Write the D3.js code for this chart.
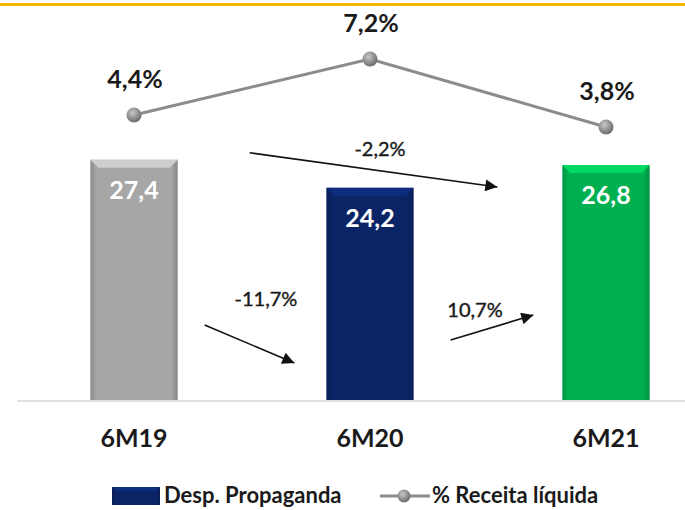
<!DOCTYPE html>
<html>
<head>
<meta charset="utf-8">
<style>
  body { margin: 0; background: #fff; }
  svg { display: block; font-family: Lato, "Open Sans", sans-serif; }
</style>
</head>
<body>
<svg width="685" height="510"></svg>
<script src="https://d3js.org/d3.v7.min.js"></script>
<script>

// data
var periods = ["6M19", "6M20", "6M21"];
var despesa = [27.4, 24.2, 26.8];
var receitaPct = [4.4, 7.2, 3.8];
var barColors = ["#a6a6a6", "#0b2466", "#00b050"];
var variations = [
  { label: "-2,2%", from: "6M19", to: "6M21" },
  { label: "-11,7%", from: "6M19", to: "6M20" },
  { label: "10,7%", from: "6M20", to: "6M21" }
];

var fmt = function(v) { return v.toFixed(1).replace(".", ","); };

var svg = d3.select("svg"),
    width = +svg.attr("width"),
    height = +svg.attr("height");

var x = d3.scaleBand()
    .domain(periods)
    .range([16, 724])
    .paddingInner(0.63)
    .paddingOuter(0.315);

var y = d3.scaleLinear()
    .domain([0, 30])
    .range([400, 137]);

var yPct = d3.scaleLinear()
    .domain([0, 10])
    .range([203, 3]);

var bw = x.bandwidth();
var cx = function(p) { return x(p) + bw / 2; };

var defs = svg.append("defs");

// bevel gradients for the bars
barColors.concat(["#0b2466"]).forEach(function(c, i) {
  var g = defs.append("linearGradient")
      .attr("id", "bar" + i)
      .attr("x1", 0).attr("x2", 1).attr("y1", 0).attr("y2", 0);
  var base = d3.color(c);
  g.append("stop").attr("offset", "0%").attr("stop-color", base.darker(0.5));
  g.append("stop").attr("offset", "7%").attr("stop-color", base);
  g.append("stop").attr("offset", "93%").attr("stop-color", base);
  g.append("stop").attr("offset", "100%").attr("stop-color", base.darker(0.6));
});

var ball = defs.append("radialGradient")
    .attr("id", "ball")
    .attr("cx", "40%").attr("cy", "35%").attr("r", "65%");
ball.append("stop").attr("offset", "0%").attr("stop-color", "#c8c8c8");
ball.append("stop").attr("offset", "100%").attr("stop-color", "#6a6a6a");

defs.append("marker")
    .attr("id", "arrow")
    .attr("viewBox", "0 0 10 10")
    .attr("refX", 10).attr("refY", 5)
    .attr("markerWidth", 15).attr("markerHeight", 12)
    .attr("markerUnits", "userSpaceOnUse")
    .attr("orient", "auto")
  .append("path")
    .attr("d", "M0,0L10,5L0,10z")
    .attr("fill", "#111");

// top yellow rule
svg.append("rect")
    .attr("x", 0).attr("y", 3)
    .attr("width", width).attr("height", 3)
    .attr("fill", "#f5b800");

// baseline
svg.append("line")
    .attr("x1", 17).attr("x2", width)
    .attr("y1", y(0) + 1).attr("y2", y(0) + 1)
    .attr("stroke", "#d9d9d9")
    .attr("stroke-width", 1.5);

// bars
var bars = svg.append("g").selectAll("g")
  .data(periods)
  .enter().append("g");

bars.append("rect")
    .attr("x", function(d) { return x(d); })
    .attr("y", function(d, i) { return y(despesa[i]); })
    .attr("width", bw)
    .attr("height", function(d, i) { return y(0) - y(despesa[i]); })
    .attr("fill", function(d, i) { return "url(#bar" + i + ")"; });

// top bevel
bars.append("path")
    .attr("d", function(d, i) {
      var x0 = x(d), t = y(despesa[i]);
      return "M" + x0 + "," + t + "L" + (x0 + bw) + "," + t +
        "L" + (x0 + bw - 8) + "," + (t + 8) + "L" + (x0 + 8) + "," + (t + 8) + "Z";
    })
    .attr("fill", function(d, i) { return d3.color(barColors[i]).brighter(0.6); });

bars.append("text")
    .attr("x", function(d) { return cx(d); })
    .attr("y", function(d, i) { return y(despesa[i]) + 39; })
    .attr("text-anchor", "middle")
    .attr("fill", "#fff")
    .attr("font-weight", "bold")
    .attr("font-size", 25)
    .text(function(d, i) { return fmt(despesa[i]); });

// % receita line
var line = d3.line()
    .x(function(d, i) { return cx(periods[i]); })
    .y(function(d) { return yPct(d); });

svg.append("path")
    .datum(receitaPct)
    .attr("d", line)
    .attr("fill", "none")
    .attr("stroke", "#8c8c8c")
    .attr("stroke-width", 3);

svg.append("g").selectAll("circle")
  .data(receitaPct)
  .enter().append("circle")
    .attr("cx", function(d, i) { return cx(periods[i]); })
    .attr("cy", function(d) { return yPct(d); })
    .attr("r", 7.5)
    .attr("fill", "url(#ball)");

svg.append("g").selectAll("text")
  .data(receitaPct)
  .enter().append("text")
    .attr("x", function(d, i) { return cx(periods[i]) + 1; })
    .attr("y", function(d) { return yPct(d) - 27; })
    .attr("text-anchor", "middle")
    .attr("fill", "#1a1a1a")
    .attr("font-weight", "bold")
    .attr("font-size", 25)
    .text(function(d) { return fmt(d) + "%"; });

// category labels
svg.append("g").selectAll("text")
  .data(periods)
  .enter().append("text")
    .attr("x", function(d) { return cx(d); })
    .attr("y", y(0) + 47)
    .attr("text-anchor", "middle")
    .attr("fill", "#1a1a1a")
    .attr("font-weight", "bold")
    .attr("font-size", 25)
    .text(function(d) { return d; });

// variation arrows (positioned around the bars)
var arrowGeom = [
  function() { return { x1: x("6M19") + bw + 72, y1: y(despesa[0]) - 7,
                        x2: x("6M21") - 65, y2: y(0) - 213,
                        lx: 380, ly: 156 }; },
  function() { return { x1: x("6M19") + bw + 27, y1: y(0) - 75,
                        x2: x("6M20") - 32, y2: y(0) - 37,
                        lx: 266, ly: 306 }; },
  function() { return { x1: x("6M20") + bw + 37, y1: y(0) - 60,
                        x2: x("6M21") - 29, y2: y(0) - 85,
                        lx: 475, ly: 317 }; }
];

var arrows = svg.append("g").selectAll("g")
  .data(variations)
  .enter().append("g");

arrows.append("line")
    .each(function(d, i) {
      var g = arrowGeom[i]();
      d3.select(this)
        .attr("x1", g.x1).attr("y1", g.y1)
        .attr("x2", g.x2).attr("y2", g.y2);
    })
    .attr("stroke", "#111")
    .attr("stroke-width", 1.6)
    .attr("marker-end", "url(#arrow)");

arrows.append("text")
    .each(function(d, i) {
      var g = arrowGeom[i]();
      d3.select(this).attr("x", g.lx).attr("y", g.ly);
    })
    .attr("text-anchor", "middle")
    .attr("fill", "#1a1a1a")
    .attr("stroke", "#1a1a1a")
    .attr("stroke-width", 0.4)
    .attr("font-size", 20)
    .text(function(d) { return d.label; });

// legend
var legend = svg.append("g");

legend.append("rect")
    .attr("x", 112).attr("y", 487)
    .attr("width", 48).attr("height", 18)
    .attr("fill", "url(#bar3)");
legend.append("path")
    .attr("d", "M112,487L160,487L156,491L116,491Z")
    .attr("fill", d3.color("#0b2466").brighter(0.6));

legend.append("text")
    .attr("x", 164).attr("y", 503)
    .attr("fill", "#1a1a1a")
    .attr("font-weight", "bold")
    .attr("font-size", 22)
    .text("Desp. Propaganda");

legend.append("line")
    .attr("x1", 380).attr("x2", 430)
    .attr("y1", 496).attr("y2", 496)
    .attr("stroke", "#8c8c8c")
    .attr("stroke-width", 3);
legend.append("circle")
    .attr("cx", 404).attr("cy", 496)
    .attr("r", 6.5)
    .attr("fill", "url(#ball)");

legend.append("text")
    .attr("x", 432).attr("y", 503)
    .attr("fill", "#1a1a1a")
    .attr("font-weight", "bold")
    .attr("font-size", 22)
    .text("% Receita líquida");

</script>
</body>
</html>
